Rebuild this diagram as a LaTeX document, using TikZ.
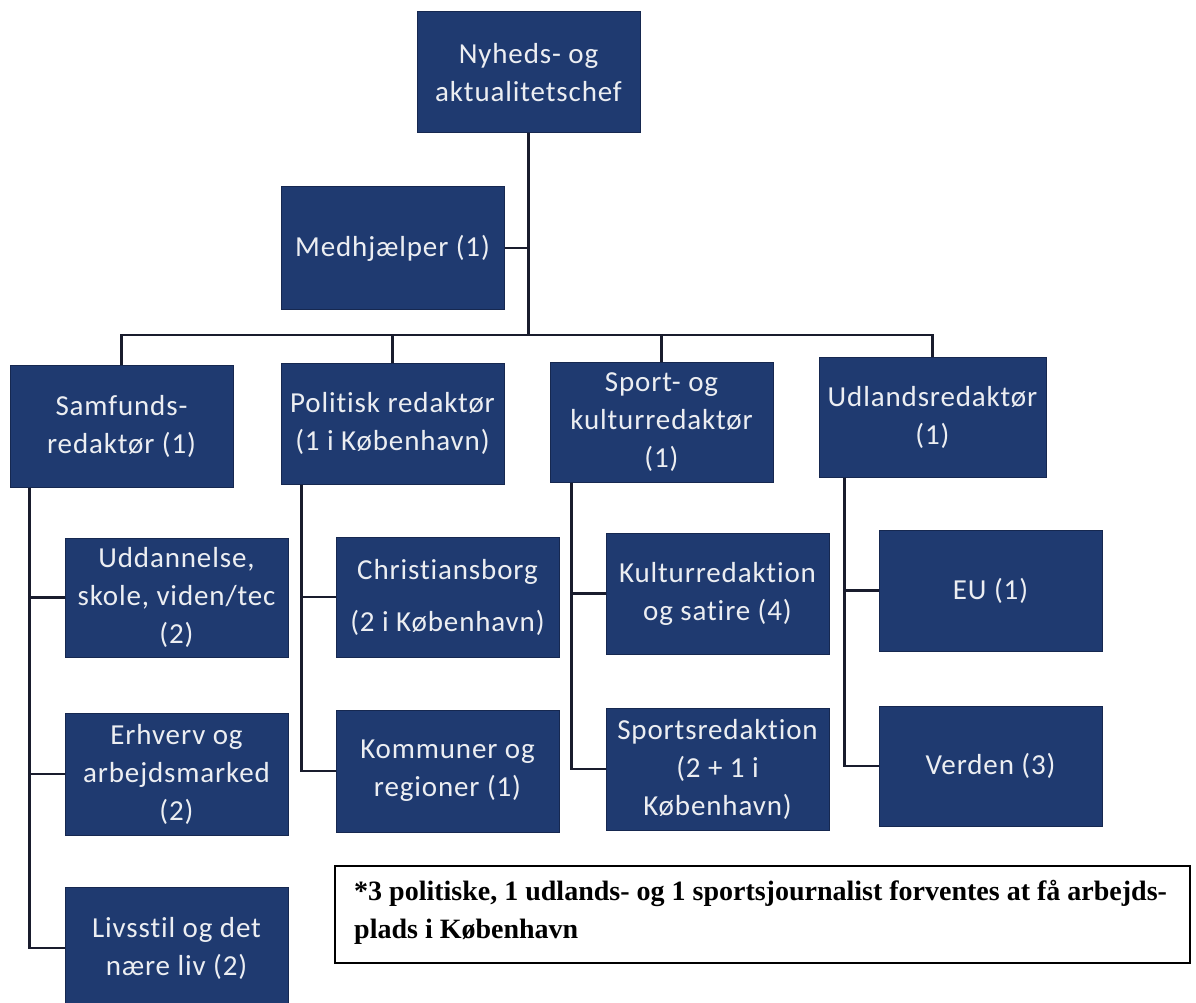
\documentclass[tikz,border=0pt]{standalone}
\usepackage{fontspec}
\setmainfont{Liberation Serif}
\newfontfamily\boxfam{Carlito}[LetterSpace=3,Ligatures=NoCommon]
\usetikzlibrary{calc}
\definecolor{navy}{RGB}{31,58,112}
\definecolor{navyline}{RGB}{22,40,80}
\definecolor{txt}{RGB}{236,238,242}
\definecolor{conn}{RGB}{25,28,45}
\tikzset{
  orgbox/.style={draw=navyline, line width=1pt, fill=navy, text=txt, align=center,
    inner sep=0pt, minimum width=223pt, minimum height=121pt,
    font=\boxfam\fontsize{29}{38}\selectfont},
  link/.style={draw=conn, line width=2.4pt},
  notebox/.style={draw=black, line width=2pt, fill=white, inner sep=0pt,
    minimum width=855pt, minimum height=97pt}
}
\begin{document}
\begin{tikzpicture}[x=1pt,y=-1pt]
\useasboundingbox[fill=white] (0,0) rectangle (1196,1003);
% level 0/1
\node[orgbox] (top) at (528.5,72.5) {Nyheds- og\\aktualitetschef};
\node[orgbox, minimum height=122pt] (med) at (392.5,248) {Medhjælper (1)};
% level 2
\node[orgbox, minimum height=122pt] (sam) at (121.5,426) {Samfunds-\\redaktør (1)};
\node[orgbox] (pol) at (392.5,423.5) {Politisk redaktør\\(1 i København)};
\node[orgbox, minimum height=120pt] (spo) at (661.5,422) {Sport- og\\kulturredaktør\\(1)};
\node[orgbox, minimum width=227pt, minimum height=120pt] (udl) at (932.5,417) {Udlandsredaktør\\(1)};
% level 3
\node[orgbox, minimum height=119pt] (udd) at (176.5,597.5) {Uddannelse,\\skole, viden/tec\\(2)};
\node[orgbox, minimum height=122pt] (erh) at (176.5,774) {Erhverv og\\arbejdsmarked\\(2)};
\node[orgbox, minimum height=122pt] (liv) at (176.5,948) {Livsstil og det\\nære liv (2)};
\node[orgbox, minimum height=120pt] (chr) at (447.5,597) {Christiansborg\\[14pt](2 i København)};
\node[orgbox, minimum height=122pt] (kom) at (447.5,771) {Kommuner og\\regioner (1)};
\node[orgbox] (kul) at (717.5,593.5) {Kulturredaktion\\og satire (4)};
\node[orgbox, minimum height=122pt] (spr) at (717.5,769) {Sportsredaktion\\(2 + 1 i\\København)};
\node[orgbox] (eu) at (990.5,590.5) {EU (1)};
\node[orgbox, minimum height=120pt] (ver) at (990.5,766) {Verden (3)};
% note
\node[notebox] (note) at (762.5,914.5) {};
\node[anchor=west, align=left, inner sep=0pt, font=\bfseries\fontsize{28}{38}\selectfont]
  (notetext) at ($(note.west)+(20pt,2pt)$) {*3 politiske, 1 udlands- og 1 sportsjournalist forventes at få arbejds-\\plads i København};
% connectors top
\coordinate (bus) at (528.5,335);
\draw[link] (top.south) -- (bus);
\draw[link] (med.east) -- (med.east -| top.south);
\draw[link] (sam.north) -- (sam.north |- bus) -- (udl.north |- bus) -- (udl.north);
\draw[link] (pol.north) -- (pol.north |- bus);
\draw[link] (spo.north) -- (spo.north |- bus);
% subtrees
\coordinate (samx) at ($(sam.south west)+(20pt,0)$);
\draw[link] (samx) |- (liv.west);
\draw[link] (udd.west) -- (udd.west -| samx);
\draw[link] (erh.west) -- (erh.west -| samx);
\coordinate (polx) at ($(pol.south west)+(21pt,0)$);
\draw[link] (polx) |- (kom.west);
\draw[link] (chr.west) -- (chr.west -| polx);
\coordinate (spox) at ($(spo.south west)+(22pt,0)$);
\draw[link] (spox) |- (spr.west);
\draw[link] (kul.west) -- (kul.west -| spox);
\coordinate (udlx) at ($(udl.south west)+(26pt,0)$);
\draw[link] (udlx) |- (ver.west);
\draw[link] (eu.west) -- (eu.west -| udlx);
\end{tikzpicture}
\end{document}
